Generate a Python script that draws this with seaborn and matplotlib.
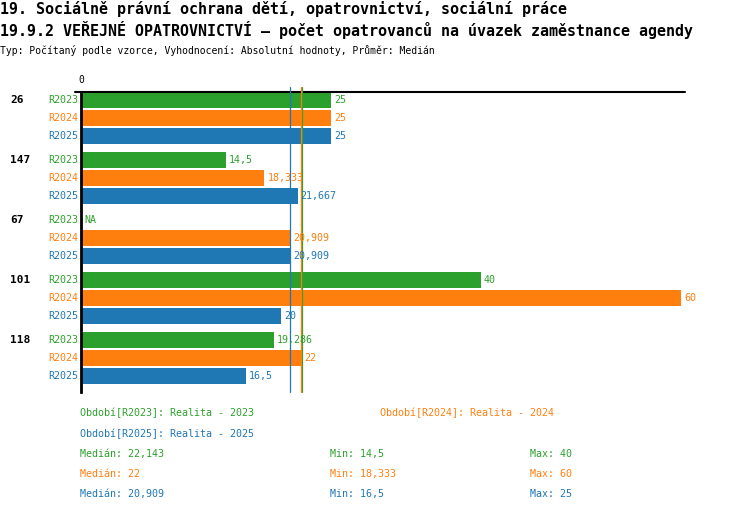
import numpy as np
import pandas as pd
import seaborn as sns
import matplotlib
matplotlib.use("Agg")
import matplotlib.pyplot as plt

## data
groups = ["26", "147", "67", "101", "118"]
periods = ["R2023", "R2024", "R2025"]
r2023 = [25, 14.5, np.nan, 40, 19.286]
r2024 = [25, 18.333, 20.909, 60, 22]
r2025 = [25, 21.667, 20.909, 20, 16.5]
period_names = ["Realita - 2023", "Realita - 2024", "Realita - 2025"]
colors = {"R2023": "#2ca02c", "R2024": "#ff7f0e", "R2025": "#1f77b4"}

title1 = "19. Sociálně právní ochrana dětí, opatrovnictví, sociální práce"
title2 = "19.9.2 VEŘEJNÉ OPATROVNICTVÍ – počet opatrovanců na úvazek zaměstnance agendy"
subtitle = "Typ: Počítaný podle vzorce, Vyhodnocení: Absolutní hodnoty, Průměr: Medián"

sns.set_style("white")
plt.rcParams["font.family"] = ["DejaVu Sans Mono", "DejaVu Sans"]
plt.rcParams["text.color"] = "black"

W, H = 750, 512
GROUP_STEP = 60 / 18  # group pitch in row units


def fmt(v):
    if np.isnan(v):
        return "NA"
    return f"{v:.3f}".rstrip("0").rstrip(".").replace(".", ",")


def px(x, y):
    return x / W, 1 - y / H


# long table with one row per bar
series = {"R2023": r2023, "R2024": r2024, "R2025": r2025}
rows = []
for g, name in enumerate(groups):
    for k, p in enumerate(periods):
        rows.append({"group": name, "period": p, "value": series[p][g],
                     "ypos": g * GROUP_STEP + k})
df = pd.DataFrame(rows)

fig = plt.figure(figsize=(W / 100, H / 100), dpi=100)
ax = fig.add_axes([81 / W, 1 - 392 / H, 604 / W, 300 / H])

sns.barplot(data=df.dropna(), x="value", y="ypos", hue="period", orient="h",
            native_scale=True, dodge=False, palette=colors, saturation=1,
            width=16 / 18, errorbar=None, legend=False, linewidth=0, ax=ax)

ax.set_xlim(0, 60.4)
y_top = -8 / 18
ax.set_ylim(292 / 18, y_top)
ax.set_xticks([])
ax.set_yticks([])
ax.set_xlabel("")
ax.set_ylabel("")
for s in ["top", "right", "bottom"]:
    ax.spines[s].set_visible(False)
ax.spines["left"].set_color("black")
ax.spines["left"].set_linewidth(2)
ax.axhline(y_top, xmin=-0.01, xmax=1, color="black", lw=1.5, clip_on=False)
ax.text(0, 1.04, "0", transform=ax.get_xaxis_transform(), ha="center",
        va="center", fontsize=7)

# labels for groups, periods and values
ytr = ax.get_yaxis_transform()
for _, r in df.iterrows():
    c = colors[r["period"]]
    if r["period"] == "R2023":
        ax.text((10 - 81) / 604, r["ypos"], r["group"], transform=ytr,
                ha="left", va="center", fontsize=8, fontweight="bold")
    ax.text(-3 / 604, r["ypos"], r["period"], transform=ytr, ha="right",
            va="center", fontsize=7.2, color=c)
    v = r["value"]
    xv = 0 if np.isnan(v) else v
    ax.text(xv + 0.3, r["ypos"], fmt(v), ha="left", va="center",
            fontsize=7.2, color=c)

# median lines
stats = {}
for p in periods:
    vals = np.array(series[p], dtype=float)
    stats[p] = (np.nanmedian(vals), np.nanmin(vals), np.nanmax(vals))
for p in ["R2025", "R2023", "R2024"]:
    ax.axvline(stats[p][0], ymin=0, ymax=1.017, color=colors[p], lw=0.9,
               clip_on=False)

# titles
fig.text(*px(0, 9), title1, fontsize=10.8, va="center", ha="left",
         fontweight="bold")
fig.text(*px(0, 30), title2, fontsize=10.8, va="center", ha="left",
         fontweight="bold")
fig.text(*px(0, 50), subtitle, fontsize=7, va="center", ha="left")

# legend block
leg_pos = {"R2023": (80, 413), "R2024": (380, 413), "R2025": (80, 434)}
for p, name in zip(periods, period_names):
    fig.text(*px(*leg_pos[p]), f"Období[{p}]: {name}", fontsize=7.2,
             color=colors[p], va="center")
for i, p in enumerate(periods):
    y = 454 + i * 20
    med, mn, mx = stats[p]
    fig.text(*px(80, y), f"Medián: {fmt(med)}", fontsize=7.2, color=colors[p], va="center")
    fig.text(*px(330, y), f"Min: {fmt(mn)}", fontsize=7.2, color=colors[p], va="center")
    fig.text(*px(530, y), f"Max: {fmt(mx)}", fontsize=7.2, color=colors[p], va="center")

fig.savefig("out.png", dpi=100)
